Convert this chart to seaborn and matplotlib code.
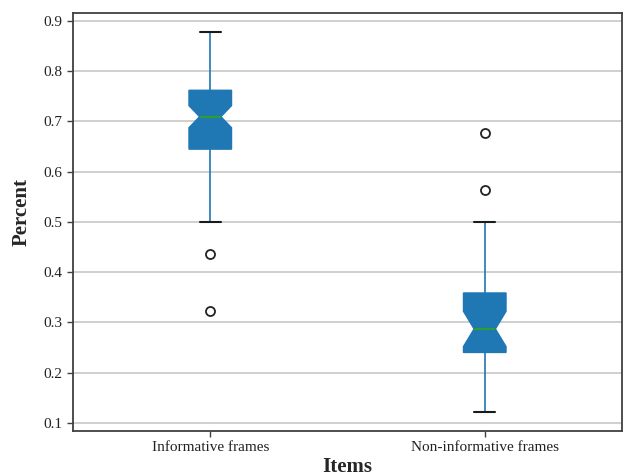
import pandas as pd
import seaborn as sns
import matplotlib.pyplot as plt

# share of informative / non-informative frames
informative = [0.322, 0.436, 0.500, 0.521, 0.538, 0.552, 0.566, 0.578, 0.589, 0.598,
               0.606, 0.614, 0.621, 0.627, 0.632, 0.637, 0.641, 0.644, 0.646, 0.650,
               0.655, 0.658, 0.663, 0.666, 0.671, 0.674, 0.679, 0.682, 0.686, 0.691,
               0.694, 0.698, 0.701, 0.704, 0.708, 0.710, 0.713, 0.717, 0.719, 0.722,
               0.726, 0.728, 0.731, 0.735, 0.737, 0.740, 0.744, 0.746, 0.749, 0.752,
               0.756, 0.760, 0.762, 0.766, 0.770, 0.775, 0.780, 0.786, 0.792, 0.798,
               0.805, 0.812, 0.820, 0.828, 0.836, 0.845, 0.853, 0.861, 0.869, 0.878]
non_informative = [0.122, 0.160, 0.185, 0.204, 0.218, 0.229, 0.238, 0.241, 0.248, 0.256,
                   0.263, 0.270, 0.277, 0.284, 0.290, 0.298, 0.308, 0.320, 0.333, 0.345,
                   0.356, 0.366, 0.385, 0.420, 0.462, 0.500, 0.563, 0.676]
labels = ['Informative frames', 'Non-informative frames']

df = pd.DataFrame({
    'Items': [labels[0]] * len(informative) + [labels[1]] * len(non_informative),
    'Percent': informative + non_informative,
})

sns.set_style('white')
plt.rcParams['font.family'] = ['Liberation Serif', 'DejaVu Serif']

fig = plt.figure(figsize=(6.25, 4.76), dpi=100)
ax = fig.add_axes([0.1168, 0.0945, 0.8784, 0.878])

sns.boxplot(data=df, x='Items', y='Percent', order=labels, ax=ax,
            color='#1f77b4', saturation=1, width=0.155, notch=True,
            capwidths=0.078, whis=1.5,
            boxprops=dict(facecolor='#1f77b4', edgecolor='#1f77b4', linewidth=1),
            whiskerprops=dict(color='#1f77b4', linewidth=1.2),
            capprops=dict(color='#1a1a1a', linewidth=1.5),
            medianprops=dict(color='#2ca02c', linewidth=1.5),
            flierprops=dict(marker='o', markerfacecolor='none', markeredgecolor='#222222',
                            markersize=6.5, markeredgewidth=1.3))

ax.set_xlim(-0.5, 1.5)
ax.set_ylim(0.084, 0.915)
ax.set_yticks([0.1, 0.2, 0.3, 0.4, 0.5, 0.6, 0.7, 0.8, 0.9])
ax.yaxis.grid(True, color='#cfcfcf', linewidth=1.4)
ax.xaxis.grid(False)
ax.set_axisbelow(True)
for s in ax.spines.values():
    s.set_color('#404040')
    s.set_linewidth(1.3)
ax.tick_params(axis='both', direction='out', length=4, width=1, color='#404040',
               left=True, bottom=True, labelsize=11, labelcolor='#222222')
ax.set_xlabel('Items', fontsize=15, fontweight='bold', labelpad=2)
ax.set_ylabel('Percent', fontsize=15, fontweight='bold')
ax.yaxis.set_label_coords(-0.075, 0.524)

fig.savefig('out.png', dpi=100)
